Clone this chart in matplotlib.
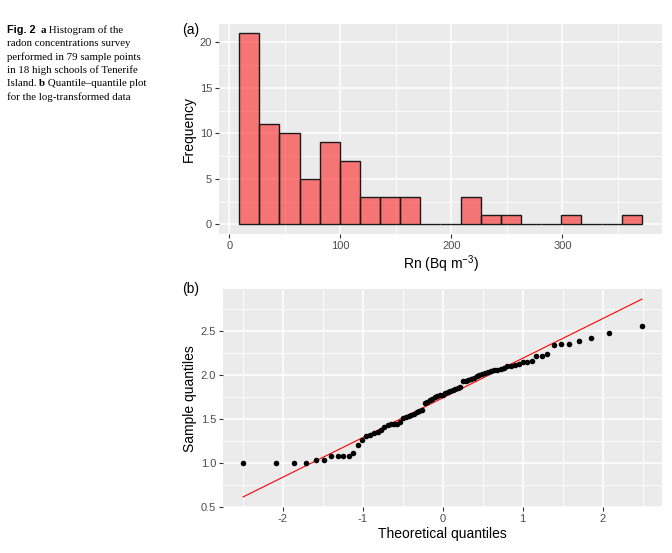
from statistics import NormalDist

import matplotlib
matplotlib.use('Agg')
import matplotlib.pyplot as plt
import numpy as np

# histogram of Rn (Bq m-3), 20 equal bins
bin_lo, bin_hi = 9.0, 371.5
counts = [21, 11, 10, 5, 9, 7, 3, 3, 3, 0, 0, 3, 1, 1, 0, 0, 1, 0, 0, 1]

# sorted log10(Rn) sample quantiles
sample_q = [
    1.00, 1.00, 1.00, 1.00, 1.04, 1.04, 1.08, 1.08, 1.08, 1.08,
    1.12, 1.21, 1.26, 1.31, 1.32, 1.34, 1.36, 1.38, 1.41, 1.43,
    1.44, 1.44, 1.45, 1.47, 1.51, 1.53, 1.54, 1.55, 1.56, 1.58,
    1.59, 1.60, 1.68, 1.70, 1.72, 1.73, 1.75, 1.76, 1.77, 1.78,
    1.80, 1.81, 1.82, 1.83, 1.84, 1.85, 1.87, 1.93, 1.94, 1.95,
    1.96, 1.97, 1.99, 2.00, 2.02, 2.03, 2.04, 2.05, 2.06, 2.06,
    2.07, 2.08, 2.10, 2.11, 2.12, 2.13, 2.15, 2.155, 2.165, 2.215,
    2.22, 2.24, 2.345, 2.355, 2.355, 2.385, 2.42, 2.485, 2.56,
]
qq_intercept, qq_slope = 1.741, 0.4514

caption = [
    [('Fig. 2', 'sans', 'bold'), ('  ', 'serif', 'normal'), ('a', 'serif', 'bold'),
     (' Histogram of the', 'serif', 'normal')],
    [('radon concentrations survey', 'serif', 'normal')],
    [('performed in 79 sample points', 'serif', 'normal')],
    [('in 18 high schools of Tenerife', 'serif', 'normal')],
    [('Island. ', 'serif', 'normal'), ('b', 'serif', 'bold'),
     (' Quantile\u2013quantile plot', 'serif', 'normal')],
    [('for the log-transformed data', 'serif', 'normal')],
]

PANEL = '#EBEBEB'
TICK_TXT = '#4D4D4D'
SANS = 'Liberation Sans'
SERIF = 'Liberation Serif'

plt.rcParams['font.family'] = SANS
plt.rcParams['mathtext.default'] = 'regular'
plt.rcParams['axes.unicode_minus'] = False


def gg_style(ax, major_x, minor_x, major_y, minor_y):
    ax.set_facecolor(PANEL)
    for s in ax.spines.values():
        s.set_visible(False)
    ax.set_xticks(major_x)
    ax.set_xticks(minor_x, minor=True)
    ax.set_yticks(major_y)
    ax.set_yticks(minor_y, minor=True)
    ax.grid(True, which='major', color='white', lw=1.1, zorder=0)
    ax.grid(True, which='minor', color='white', lw=0.55, zorder=0)
    ax.set_axisbelow(True)
    ax.tick_params(which='major', length=3, width=0.8, color='#333333',
                   labelsize=8, labelcolor=TICK_TXT, pad=2)
    ax.tick_params(which='minor', length=0)


fig = plt.figure(figsize=(6.72, 5.53), dpi=100)

# (a) histogram
ax1 = fig.add_axes([0.326, 0.577, 0.659, 0.380])
edges = np.linspace(bin_lo, bin_hi, len(counts) + 1)
width = edges[1] - edges[0]
ax1.bar(edges[:-1], counts, width=width, align='edge', facecolor=(1, 0, 0, 0.5),
        edgecolor='#1a1a1a', linewidth=1.0, zorder=2)
xr = bin_hi - bin_lo
ax1.set_xlim(bin_lo - 0.05 * xr, bin_hi + 0.05 * xr)
ax1.set_ylim(-0.05 * max(counts), 1.05 * max(counts))
gg_style(ax1, [0, 100, 200, 300], [50, 150, 250, 350],
         [0, 5, 10, 15, 20], [2.5, 7.5, 12.5, 17.5])
ax1.set_xlabel('Rn (Bq m$^{-3}$)', fontsize=10, labelpad=2)
ax1.set_ylabel('Frequency', fontsize=10, labelpad=3)
fig.text(182 / 672, 1 - 30 / 553, '(a)', fontsize=10, va='center', ha='left')

# (b) normal q-q plot
ax2 = fig.add_axes([0.332, 0.083, 0.653, 0.394])
n = len(sample_q)
theo = [NormalDist().inv_cdf((i + 0.5) / n) for i in range(n)]
x_line = np.array([theo[0], theo[-1]])
ax2.plot(x_line, qq_intercept + qq_slope * x_line, color='red', lw=0.8, zorder=3)
ax2.scatter(theo, sample_q, s=16, color='black', linewidths=0, zorder=4)
tr = theo[-1] - theo[0]
ax2.set_xlim(theo[0] - 0.05 * tr, theo[-1] + 0.05 * tr)
ylo = min(min(sample_q), qq_intercept + qq_slope * theo[0])
yhi = max(max(sample_q), qq_intercept + qq_slope * theo[-1])
ax2.set_ylim(ylo - 0.05 * (yhi - ylo), yhi + 0.05 * (yhi - ylo))
gg_style(ax2, [-2, -1, 0, 1, 2], [-2.5, -1.5, -0.5, 0.5, 1.5, 2.5],
         [0.5, 1.0, 1.5, 2.0, 2.5], [0.75, 1.25, 1.75, 2.25, 2.75])
ax2.yaxis.set_major_formatter(matplotlib.ticker.FormatStrFormatter('%.1f'))
ax2.set_xlabel('Theoretical quantiles', fontsize=10, labelpad=2)
ax2.set_ylabel('Sample quantiles', fontsize=10, labelpad=3)
fig.text(182 / 672, 1 - 289 / 553, '(b)', fontsize=10, va='center', ha='left')

# caption block, mixed fonts per line
renderer = fig.canvas.get_renderer()
y_px = 33
for line in caption:
    x_px = 7
    for txt, fam, wt in line:
        t = fig.text(x_px / 672, 1 - y_px / 553, txt, fontsize=7.8,
                     family=SANS if fam == 'sans' else SERIF, weight=wt,
                     va='baseline', ha='left')
        bb = t.get_window_extent(renderer)
        x_px += bb.width
    y_px += 13.3

fig.savefig('out.png', dpi=100)
